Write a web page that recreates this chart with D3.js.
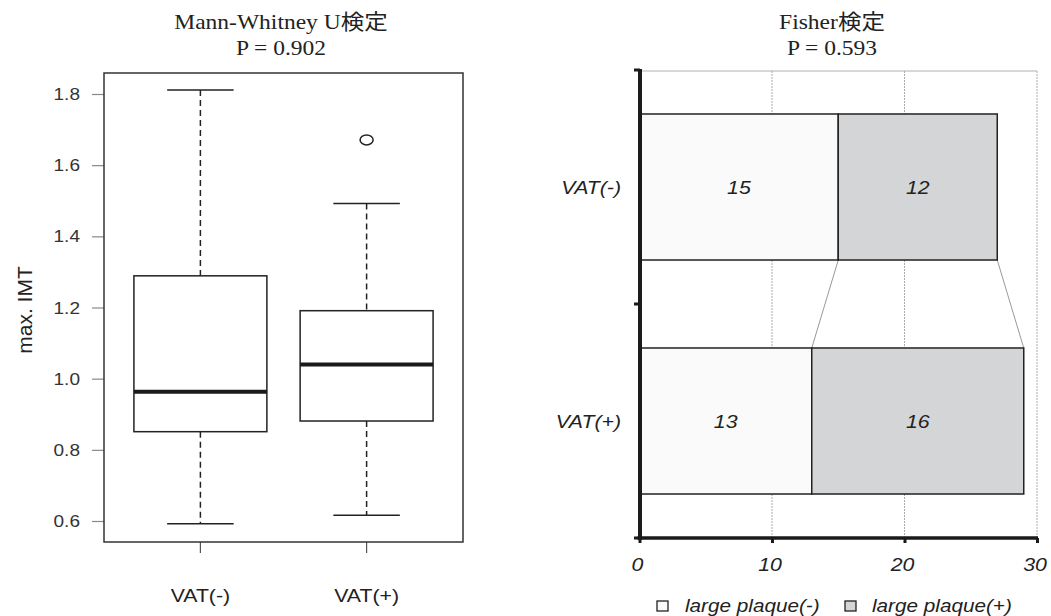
<!DOCTYPE html>
<html>
<head>
<meta charset="utf-8">
<script src="https://cdn.jsdelivr.net/npm/d3@7"></script>
<style>
  body { margin: 0; background: #fff; }
  svg { display: block; }
  .sans { font-family: "Liberation Sans", Arial, sans-serif; }
  .serif { font-family: "Liberation Serif", "Noto Sans CJK JP", serif; }
</style>
</head>
<body>
<div id="chart"></div>
<script>
// ---- data ----
var groups = ["VAT(-)", "VAT(+)"];
var boxLow = [0.592, 0.616];
var boxQ1 = [0.851, 0.881];
var boxMed = [0.963, 1.040];
var boxQ3 = [1.289, 1.191];
var boxHigh = [1.811, 1.492];
var outliers = [[], [1.671]];
var yTicks = [0.6, 0.8, 1.0, 1.2, 1.4, 1.6, 1.8];

var rows = ["VAT(-)", "VAT(+)"];
var plaqueNeg = [15, 13];
var plaquePos = [12, 16];
var xTicks = [0, 10, 20, 30];
var legendLabels = ["large plaque(-)", "large plaque(+)"];

var W = 1051, H = 616, SX = 1.12;

var svg = d3.select("#chart").append("svg")
    .attr("width", W)
    .attr("height", H);

// text with the slight horizontal stretch of the original
function label(g, x, y, txt, anchor, cls) {
    return g.append("text")
        .attr("class", cls || "sans")
        .attr("text-anchor", anchor || "middle")
        .attr("transform", "translate(" + x + "," + y + ") scale(" + SX + ",1)")
        .text(txt);
}

// ================= LEFT : boxplot =================
var left = svg.append("g");
var frame = { x0: 104, x1: 463, y0: 73, y1: 542 };

var y = d3.scaleLinear().domain([0.6, 1.8]).range([521, 94]);
var x = d3.scaleLinear().domain([0.42, 2.58]).range([frame.x0, frame.x1]);

label(left, 281, 29, "Mann-Whitney U検定", "middle", "serif").style("font-size", "21px").attr("fill", "#222");
label(left, 281, 55, "P = 0.902", "middle", "serif").style("font-size", "21px").attr("fill", "#222");

// y axis
var yAxis = d3.axisLeft(y).tickValues(yTicks).tickSize(12).tickFormat(d3.format(".1f"));
var ya = left.append("g").attr("transform", "translate(" + frame.x0 + ",0)").call(yAxis);
ya.select(".domain").remove();
ya.selectAll(".tick line").attr("stroke", "#888").attr("stroke-width", 1.2);
ya.selectAll(".tick text").remove();
yTicks.forEach(function (t) {
    label(left, 80, y(t) + 6, d3.format(".1f")(t), "end").style("font-size", "17px").attr("fill", "#333");
});

// x ticks
groups.forEach(function (gname, i) {
    left.append("line")
        .attr("x1", x(i + 1)).attr("x2", x(i + 1))
        .attr("y1", frame.y1).attr("y2", frame.y1 + 11)
        .attr("stroke", "#555").attr("stroke-width", 1.2);
    label(left, x(i + 1), 602, gname, "middle").style("font-size", "19px").attr("fill", "#222");
});

label(left, 0, 0, "max. IMT", "middle")
    .attr("transform", "translate(32,310) rotate(-90) scale(1.05,1)")
    .style("font-size", "20px").attr("fill", "#222");

// boxes
groups.forEach(function (gname, i) {
    var cx = x(i + 1), bw = x(0.8) - x(0), sw = x(0.4) - x(0);
    var g = left.append("g");
    // whiskers
    g.append("line").attr("x1", cx).attr("x2", cx).attr("y1", y(boxHigh[i])).attr("y2", y(boxQ3[i]))
        .attr("stroke", "#222").attr("stroke-width", 1.5).attr("stroke-dasharray", "6,4");
    g.append("line").attr("x1", cx).attr("x2", cx).attr("y1", y(boxQ1[i])).attr("y2", y(boxLow[i]))
        .attr("stroke", "#222").attr("stroke-width", 1.5).attr("stroke-dasharray", "6,4");
    [boxHigh[i], boxLow[i]].forEach(function (v) {
        g.append("line").attr("x1", cx - sw / 2).attr("x2", cx + sw / 2).attr("y1", y(v)).attr("y2", y(v))
            .attr("stroke", "#222").attr("stroke-width", 1.5);
    });
    g.append("rect")
        .attr("x", cx - bw / 2).attr("width", bw)
        .attr("y", y(boxQ3[i])).attr("height", y(boxQ1[i]) - y(boxQ3[i]))
        .attr("fill", "#fff").attr("stroke", "#222").attr("stroke-width", 1.5);
    g.append("line").attr("x1", cx - bw / 2).attr("x2", cx + bw / 2).attr("y1", y(boxMed[i])).attr("y2", y(boxMed[i]))
        .attr("stroke", "#1a1a1a").attr("stroke-width", 4);
    outliers[i].forEach(function (v) {
        g.append("ellipse").attr("cx", cx).attr("cy", y(v)).attr("rx", 6.5).attr("ry", 5)
            .attr("fill", "none").attr("stroke", "#222").attr("stroke-width", 1.5);
    });
});

left.append("rect")
    .attr("x", frame.x0).attr("y", frame.y0)
    .attr("width", frame.x1 - frame.x0).attr("height", frame.y1 - frame.y0)
    .attr("fill", "none").attr("stroke", "#333").attr("stroke-width", 1.5);

// ================= RIGHT : stacked bars =================
var right = svg.append("g");
var xr = d3.scaleLinear().domain([0, 30]).range([639.5, 1037]);
var yr = d3.scaleBand().domain(rows).range([70, 538]).paddingInner(0.376).paddingOuter(0.188);

label(right, 832, 29, "Fisher検定", "middle", "serif").style("font-size", "21px").attr("fill", "#222");
label(right, 832, 55, "P = 0.593", "middle", "serif").style("font-size", "21px").attr("fill", "#222");

// top border of plot area
right.append("line").attr("x1", xr(0)).attr("x2", xr(30)).attr("y1", 71).attr("y2", 71)
    .attr("stroke", "#d8d8d8").attr("stroke-width", 2);

// grid
right.selectAll(".grid").data(xTicks.slice(1)).enter().append("line")
    .attr("class", "grid")
    .attr("x1", function (d) { return xr(d); }).attr("x2", function (d) { return xr(d); })
    .attr("y1", 71).attr("y2", 538)
    .attr("stroke", "#aaa").attr("stroke-width", 1).attr("stroke-dasharray", "2,1");

// connector lines between the bars
var r0 = rows[0], r1 = rows[1];
[[plaqueNeg[0], plaqueNeg[1]], [plaqueNeg[0] + plaquePos[0], plaqueNeg[1] + plaquePos[1]]].forEach(function (p) {
    right.append("line")
        .attr("x1", xr(p[0])).attr("y1", yr(r0) + yr.bandwidth())
        .attr("x2", xr(p[1])).attr("y2", yr(r1))
        .attr("stroke", "#999").attr("stroke-width", 1);
});

// bars
rows.forEach(function (r, i) {
    var segs = [
        { a: 0, b: plaqueNeg[i], fill: "#fafafa", v: plaqueNeg[i] },
        { a: plaqueNeg[i], b: plaqueNeg[i] + plaquePos[i], fill: "#d4d5d7", v: plaquePos[i] }
    ];
    segs.forEach(function (s) {
        right.append("rect")
            .attr("x", xr(s.a)).attr("width", xr(s.b) - xr(s.a))
            .attr("y", yr(r)).attr("height", yr.bandwidth())
            .attr("fill", s.fill).attr("stroke", "#222").attr("stroke-width", 1.5);
        label(right, (xr(s.a) + xr(s.b)) / 2, yr(r) + yr.bandwidth() / 2 + 7, s.v, "middle")
            .style("font-size", "19px").style("font-style", "italic").attr("fill", "#222");
    });
    label(right, 621, yr(r) + yr.bandwidth() / 2 + 7, r, "end")
        .style("font-size", "19px").style("font-style", "italic").attr("fill", "#222");
});

// axes
var xAxis = d3.axisBottom(xr).tickValues(xTicks).tickSize(5).tickFormat(d3.format("d"));
var xa = right.append("g").attr("transform", "translate(0,538)").call(xAxis);
xa.select(".domain").remove();
xa.selectAll(".tick line").attr("stroke", "#1a1a1a").attr("stroke-width", 3);
xa.selectAll(".tick text").remove();
xTicks.forEach(function (t) {
    label(right, xr(t) - 2, 571, t, "middle").style("font-size", "19px").style("font-style", "italic").attr("fill", "#222");
});
right.append("line").attr("x1", xr(0) - 2).attr("x2", xr(30) + 1).attr("y1", 538).attr("y2", 538)
    .attr("stroke", "#1a1a1a").attr("stroke-width", 3.5);

// y axis with ticks at band boundaries
right.append("line").attr("x1", 640).attr("x2", 640).attr("y1", 69).attr("y2", 540)
    .attr("stroke", "#1a1a1a").attr("stroke-width", 4);
[70, yr(r0) + yr.step() - yr.step() * yr.paddingInner() / 2, 538].forEach(function (ty) {
    right.append("line").attr("x1", 634).attr("x2", 640).attr("y1", ty).attr("y2", ty)
        .attr("stroke", "#1a1a1a").attr("stroke-width", 3);
});

// legend
var lx = [657, 845], tx = [685, 872], fills = ["#fafafa", "#d4d5d7"];
legendLabels.forEach(function (t, i) {
    right.append("rect").attr("x", lx[i]).attr("y", 601).attr("width", 11).attr("height", 10)
        .attr("fill", fills[i]).attr("stroke", "#222").attr("stroke-width", 1.3);
    label(right, tx[i], 612, t, "start").style("font-size", "18.5px").style("font-style", "italic").attr("fill", "#222");
});
</script>
</body>
</html>
